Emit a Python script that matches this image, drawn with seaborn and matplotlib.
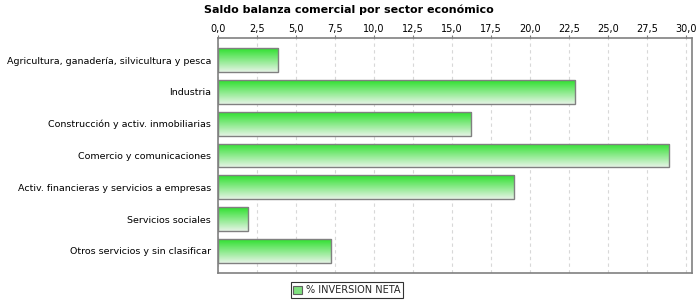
import numpy as np
import pandas as pd
import matplotlib
matplotlib.use("Agg")
import matplotlib.pyplot as plt
import seaborn as sns
from matplotlib.colors import LinearSegmentedColormap
from matplotlib.ticker import MultipleLocator, FuncFormatter
from matplotlib.patches import Patch

categories = [
    "Agricultura, ganadería, silvicultura y pesca",
    "Industria",
    "Construcción y activ. inmobiliarias",
    "Comercio y comunicaciones",
    "Activ. financieras y servicios a empresas",
    "Servicios sociales",
    "Otros servicios y sin clasificar",
]
values = [3.85, 22.9, 16.24, 28.9, 18.97, 1.95, 7.27]
series_name = "% INVERSION NETA"
title = "Saldo balanza comercial por sector económico"

df = pd.DataFrame({"sector": categories, "valor": values})

sns.set_style("white")
plt.rcParams["font.family"] = ["DejaVu Sans"]

fig = plt.figure(figsize=(7, 3), dpi=100)
ax = fig.add_axes([218 / 700, 1 - 273 / 300, (692 - 218) / 700, (273 - 38) / 300])

sns.barplot(data=df, x="valor", y="sector", ax=ax, color="#33dd33",
            width=0.75, edgecolor="#808080", linewidth=1.0, orient="h")

# gradient fill
cmap = LinearSegmentedColormap.from_list("g", ["#2ee02e", "#e6f4e6"])
grad = np.linspace(0, 1, 256).reshape(-1, 1)
for p in list(ax.patches):
    x0, y0 = p.get_x(), p.get_y()
    w, h = p.get_width(), p.get_height()
    p.set_facecolor("none")
    im = ax.imshow(grad, cmap=cmap, aspect="auto",
                   extent=[x0, x0 + w, y0 + h, y0], origin="upper", zorder=p.get_zorder() - 0.1)
    im.set_clip_path(p)
ax.set_xlim(0, 30.37)
ax.set_ylim(6.7, -0.7)

ax.xaxis.set_major_locator(MultipleLocator(2.5))
ax.xaxis.set_major_formatter(FuncFormatter(lambda v, pos: f"{v:.1f}".replace(".", ",")))
ax.xaxis.tick_top()
ax.tick_params(axis="x", length=2, width=0.8, color="#808080", labelsize=7, pad=1, labelcolor="black")
ax.tick_params(axis="y", length=0, labelsize=6.8, pad=5, labelcolor="black")
ax.grid(axis="x", color="#d8d8d8", linestyle=(0, (3, 3)), linewidth=0.8)
ax.set_axisbelow(True)
ax.set_xlabel("")
ax.set_ylabel("")
for s in ax.spines.values():
    s.set_color("#808080")
    s.set_linewidth(1.2)

fig.text(349 / 700, 1 - 10 / 300, title, ha="center", va="center",
         fontsize=8, fontweight="bold", color="black")

handle = Patch(facecolor="#7ee07e", edgecolor="#606060", linewidth=0.8)
leg = fig.legend([handle], [series_name], loc="center", bbox_to_anchor=(347 / 700, 1 - 290 / 300),
                 fontsize=7, frameon=True, fancybox=False, edgecolor="black",
                 handlelength=0.9, handleheight=0.9, handletextpad=0.4, borderpad=0.3)
leg.get_frame().set_linewidth(0.8)

fig.savefig("out.png", dpi=100)
